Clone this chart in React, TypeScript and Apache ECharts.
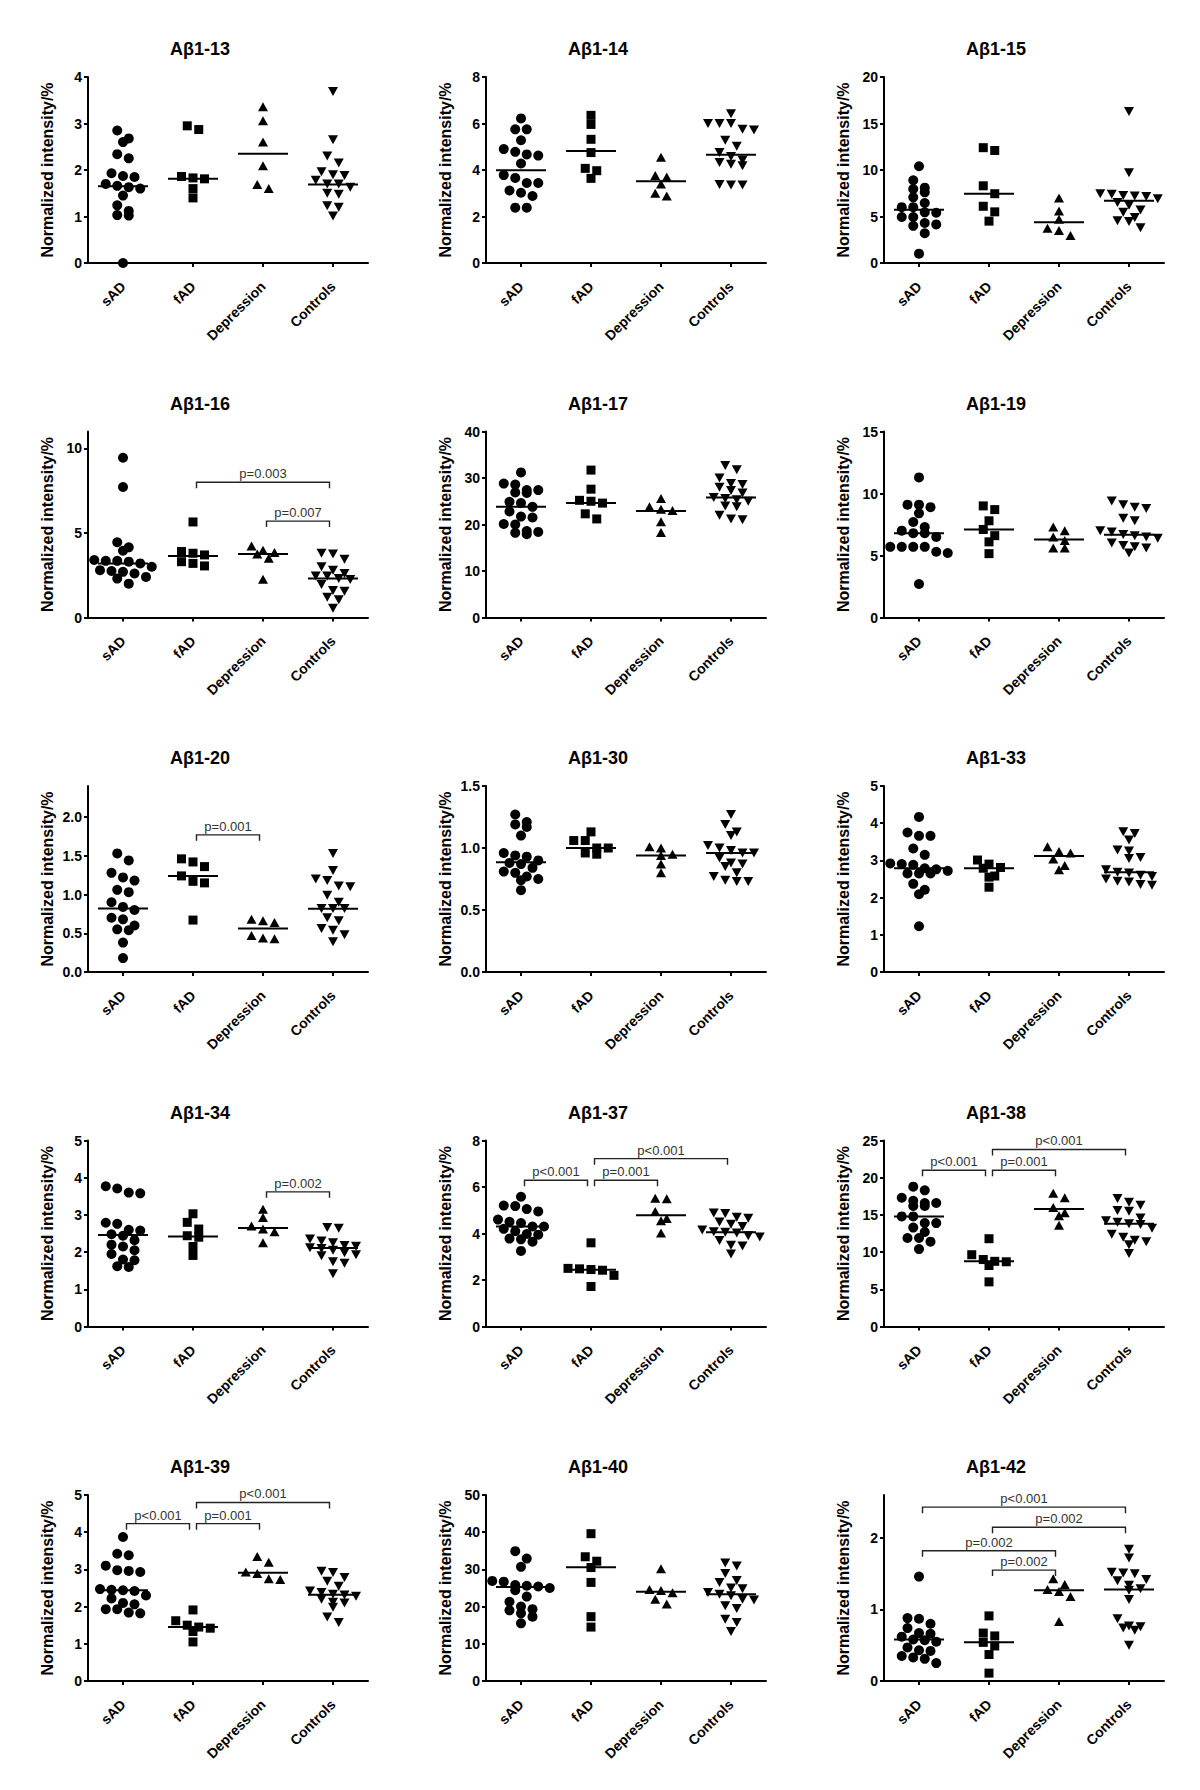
import React, { useEffect, useRef } from "react";
import * as echarts from "echarts";

// ---------- data ----------
const GROUPS = ["sAD", "fAD", "Depression", "Controls"];
const TITLES = [
  "Aβ1-13", "Aβ1-14", "Aβ1-15", "Aβ1-16", "Aβ1-17", "Aβ1-19", "Aβ1-20", "Aβ1-30",
  "Aβ1-33", "Aβ1-34", "Aβ1-37", "Aβ1-38", "Aβ1-39", "Aβ1-40", "Aβ1-42",
];
const Y_NAME = "Normalized intensity/%";
const Y_MAX = [4, 8, 20, 11, 40, 15, 2.4, 1.5, 5, 5, 8, 25, 5, 50, 2.6];
const Y_STEP = [1, 2, 5, 5, 10, 5, 0.5, 0.5, 1, 1, 2, 5, 1, 10, 1];
const Y_DECIMALS = [0, 0, 0, 0, 0, 0, 1, 1, 0, 0, 0, 0, 0, 0, 0];

// values per panel: [sAD, fAD, Depression, Controls]
const ab13 = [
  [2.85, 2.68, 2.6, 2.34, 2.25, 1.93, 1.87, 1.85, 1.7, 1.66, 1.63, 1.6, 1.45, 1.24, 1.12, 1.03, 1.02, 0.0],
  [2.95, 2.87, 1.86, 1.83, 1.81, 1.6, 1.4],
  [3.36, 3.06, 2.6, 2.09, 1.69, 1.6],
  [3.69, 2.65, 2.3, 2.15, 1.96, 1.9, 1.88, 1.78, 1.7, 1.7, 1.63, 1.5, 1.48, 1.23, 1.2, 1.01],
];
const ab14 = [
  [6.22, 5.75, 5.75, 5.28, 4.9, 4.78, 4.67, 4.62, 4.28, 3.78, 3.66, 3.44, 3.44, 3.12, 3.02, 2.88, 2.38, 2.38],
  [6.35, 5.96, 5.32, 4.75, 4.07, 3.97, 3.64],
  [4.55, 3.76, 3.7, 3.4, 3.0, 2.88],
  [6.42, 6.0, 6.0, 6.0, 5.75, 5.72, 5.28, 5.02, 4.75, 4.58, 4.42, 4.32, 4.25, 4.18, 3.38, 3.35, 3.35],
];
const ab15 = [
  [10.4, 8.9, 8.1, 7.95, 7.6, 7.06, 6.45, 6.0, 6.0, 5.45, 5.4, 4.95, 4.95, 4.3, 4.15, 4.0, 3.2, 1.0],
  [12.4, 12.1, 8.3, 7.45, 6.1, 5.5, 4.5],
  [7.0, 5.6, 4.7, 3.75, 3.5, 2.95],
  [16.3, 9.7, 7.45, 7.4, 7.25, 7.2, 7.15, 6.9, 6.5, 6.2, 5.7, 5.45, 4.9, 4.55, 4.45, 3.8],
];
const ab16 = [
  [9.45, 7.72, 4.45, 4.15, 3.95, 3.4, 3.35, 3.35, 3.3, 3.2, 3.0, 2.8, 2.75, 2.7, 2.6, 2.4, 2.3, 2.0],
  [5.65, 3.9, 3.8, 3.7, 3.3, 3.2, 3.05],
  [4.23, 3.98, 3.85, 3.75, 3.5, 2.26],
  [3.8, 3.75, 3.45, 3.0, 2.8, 2.6, 2.45, 2.45, 2.3, 2.25, 1.95, 1.6, 1.55, 1.2, 1.05, 0.55],
];
const ab17 = [
  [31.2, 28.8, 28.6, 27.4, 27.4, 26.9, 26.8, 24.9, 24.6, 23.8, 22.8, 21.7, 21.5, 20.1, 20.0, 18.6, 18.4, 18.2, 17.9],
  [31.7, 27.6, 25.2, 25.0, 24.6, 22.3, 21.2],
  [25.6, 23.8, 23.3, 23.0, 20.6, 18.3],
  [32.7, 31.8, 30.0, 28.8, 28.6, 28.0, 27.3, 26.8, 25.8, 25.6, 25.3, 25.0, 24.0, 23.8, 22.0, 21.2, 21.0],
];
const ab19 = [
  [11.3, 9.1, 9.1, 8.9, 8.4, 7.7, 7.3, 7.0, 6.8, 6.8, 6.5, 5.7, 5.7, 5.7, 5.7, 5.3, 5.2, 2.7],
  [9.0, 8.7, 7.8, 7.1, 6.6, 6.1, 5.15],
  [7.3, 7.0, 6.5, 6.2, 5.6, 5.6],
  [9.4, 9.1, 8.9, 8.8, 8.0, 7.8, 7.0, 6.9, 6.7, 6.6, 6.5, 6.4, 6.0, 5.8, 5.7, 5.6, 5.2],
];
const ab20 = [
  [1.53, 1.44, 1.28, 1.22, 1.18, 1.06, 1.03, 0.9, 0.84, 0.8, 0.7, 0.68, 0.6, 0.55, 0.54, 0.38, 0.18],
  [1.46, 1.42, 1.36, 1.24, 1.17, 1.15, 0.67],
  [0.68, 0.66, 0.64, 0.47, 0.44, 0.43],
  [1.53, 1.31, 1.2, 1.18, 1.11, 1.1, 0.99, 0.9, 0.82, 0.82, 0.82, 0.7, 0.66, 0.56, 0.54, 0.48, 0.39],
];
const ab30 = [
  [1.27, 1.21, 1.19, 1.17, 1.1, 0.96, 0.94, 0.93, 0.9, 0.88, 0.87, 0.84, 0.81, 0.8, 0.77, 0.75, 0.74, 0.66],
  [1.13, 1.06, 1.06, 1.0, 1.0, 0.96, 0.95],
  [1.01, 1.0, 0.95, 0.94, 0.87, 0.8],
  [1.27, 1.19, 1.13, 1.1, 1.02, 1.0, 0.98, 0.96, 0.96, 0.92, 0.88, 0.87, 0.85, 0.8, 0.77, 0.74, 0.73, 0.73],
];
const ab33 = [
  [4.17, 3.75, 3.66, 3.66, 3.32, 3.15, 2.92, 2.9, 2.88, 2.79, 2.76, 2.72, 2.65, 2.65, 2.65, 2.37, 2.21, 2.09, 1.23],
  [3.01, 2.9, 2.81, 2.79, 2.58, 2.55, 2.28],
  [3.37, 3.24, 3.2, 3.04, 2.86, 2.75],
  [3.77, 3.72, 3.55, 3.28, 3.25, 3.08, 3.05, 2.75, 2.68, 2.66, 2.6, 2.57, 2.5, 2.44, 2.42, 2.35, 2.33],
];
const ab34 = [
  [3.77, 3.71, 3.6, 3.58, 2.79, 2.76, 2.6, 2.58, 2.48, 2.44, 2.32, 2.2, 2.15, 2.05, 1.95, 1.8, 1.78, 1.62, 1.6],
  [3.03, 2.8, 2.62, 2.44, 2.4, 2.15, 1.91],
  [3.15, 2.93, 2.7, 2.62, 2.55, 2.25],
  [2.66, 2.64, 2.35, 2.3, 2.25, 2.18, 2.16, 2.12, 2.1, 2.05, 1.98, 1.93, 1.9, 1.74, 1.7, 1.42],
];
const ab37 = [
  [5.58, 5.2, 5.18, 5.05, 4.95, 4.6, 4.5, 4.45, 4.3, 4.3, 4.2, 4.1, 3.98, 3.95, 3.78, 3.75, 3.65, 3.25],
  [3.6, 2.5, 2.48, 2.45, 2.42, 2.2, 1.72],
  [5.52, 5.5, 4.95, 4.65, 4.55, 4.02],
  [4.88, 4.86, 4.7, 4.66, 4.5, 4.4, 4.3, 4.15, 4.08, 4.05, 4.02, 3.9, 3.85, 3.7, 3.5, 3.46, 3.12],
];
const ab38 = [
  [18.8, 18.3, 17.3, 16.9, 16.6, 16.6, 16.2, 16.2, 14.8, 14.8, 13.9, 13.9, 13.3, 12.7, 11.9, 11.9, 11.4, 10.4],
  [11.8, 9.65, 9.0, 8.76, 8.7, 8.2, 6.0],
  [17.9, 17.3, 16.0, 15.3, 14.9, 13.6],
  [17.2, 16.7, 16.3, 15.6, 15.5, 14.6, 14.2, 14.0, 13.8, 13.7, 13.2, 12.4, 12.0, 11.6, 11.4, 11.0, 9.8],
];
const ab39 = [
  [3.87, 3.42, 3.38, 3.1, 2.98, 2.96, 2.93, 2.47, 2.45, 2.44, 2.42, 2.3, 2.22, 2.1, 2.06, 1.93, 1.93, 1.84, 1.82],
  [1.91, 1.62, 1.5, 1.45, 1.42, 1.33, 1.05],
  [3.35, 3.19, 2.93, 2.89, 2.75, 2.73],
  [2.95, 2.92, 2.78, 2.68, 2.55, 2.42, 2.38, 2.33, 2.31, 2.28, 2.2, 2.12, 2.1, 1.98, 1.72, 1.57],
];
const ab40 = [
  [34.9, 32.9, 30.7, 26.9, 26.7, 25.8, 25.6, 25.4, 25.0, 24.4, 22.7, 21.3, 20.0, 19.3, 19.0, 18.2, 17.3, 15.5],
  [39.6, 33.4, 32.2, 30.5, 26.5, 17.3, 14.5],
  [30.2, 24.6, 24.3, 23.7, 22.0, 20.7],
  [31.7, 30.9, 28.9, 27.0, 26.5, 25.0, 24.8, 23.8, 23.3, 22.9, 22.0, 21.8, 20.2, 19.5, 16.6, 15.7, 13.3],
];
const ab42 = [
  [1.46, 0.88, 0.87, 0.8, 0.74, 0.67, 0.66, 0.62, 0.58, 0.57, 0.55, 0.47, 0.43, 0.42, 0.35, 0.33, 0.31, 0.25],
  [0.91, 0.67, 0.63, 0.54, 0.49, 0.37, 0.11],
  [1.43, 1.35, 1.28, 1.25, 1.18, 0.83],
  [1.84, 1.72, 1.52, 1.51, 1.5, 1.42, 1.4, 1.34, 1.29, 1.27, 1.14, 0.87, 0.77, 0.76, 0.74, 0.71, 0.5],
];
const VALUES = [ab13, ab14, ab15, ab16, ab17, ab19, ab20, ab30, ab33, ab34, ab37, ab38, ab39, ab40, ab42];

// horizontal median lines per panel: [sAD, fAD, Depression, Controls]
const MEDIANS = [
  [1.65, 1.81, 2.35, 1.69],
  [3.99, 4.82, 3.52, 4.66],
  [5.73, 7.45, 4.37, 6.7],
  [3.19, 3.64, 3.76, 2.3],
  [23.8, 24.6, 22.9, 25.8],
  [6.8, 7.1, 6.3, 6.67],
  [0.82, 1.24, 0.56, 0.815],
  [0.885, 1.0, 0.94, 0.96],
  [2.79, 2.79, 3.12, 2.68],
  [2.46, 2.42, 2.65, 2.11],
  [4.3, 2.44, 4.79, 4.05],
  [14.8, 8.76, 15.8, 13.8],
  [2.44, 1.45, 2.91, 2.32],
  [25.3, 30.6, 24.0, 23.3],
  [0.58, 0.54, 1.27, 1.28],
];

// significance brackets: [fromGroup, toGroup, level, label]
type Bracket = [number, number, number, string];
const br16: Bracket[] = [[1, 3, 8.0, "p=0.003"], [2, 3, 5.7, "p=0.007"]];
const br20: Bracket[] = [[1, 2, 1.77, "p=0.001"]];
const br34: Bracket[] = [[2, 3, 3.62, "p=0.002"]];
const br37: Bracket[] = [[0, 1, 6.29, "p<0.001"], [1, 2, 6.29, "p=0.001"], [1, 3, 7.22, "p<0.001"]];
const br38: Bracket[] = [[0, 1, 21.0, "p<0.001"], [1, 2, 21.0, "p=0.001"], [1, 3, 23.8, "p<0.001"]];
const br39: Bracket[] = [[0, 1, 4.23, "p<0.001"], [1, 2, 4.23, "p=0.001"], [1, 3, 4.8, "p<0.001"]];
const br42: Bracket[] = [
  [0, 3, 2.43, "p<0.001"], [1, 3, 2.15, "p=0.002"], [0, 2, 1.82, "p=0.002"], [1, 2, 1.55, "p=0.002"],
];
const BRACKETS: Bracket[][] = [[], [], [], br16, [], [], br20, [], [], br34, br37, br38, br39, [], br42];

// ---------- layout / style ----------
const FONT = '"Liberation Sans", Arial, Helvetica, sans-serif';
const INK = "#000000";
const PLOT_W = 280;
const PLOT_H = 186;
const BAND_W = PLOT_W / 4;
const COL_X = [88, 486, 884];
const ROW_TOP0 = 77;
const ROW_DY = 354.5;
const ROW_H = 8; // px: points closer than this share a row
const SPACING = 11.5; // px between neighbours in a row
const SYMBOLS: { symbol: string; size: number | number[]; rotate: number }[] = [
  { symbol: "circle", size: 10, rotate: 0 },
  { symbol: "rect", size: 9, rotate: 0 },
  { symbol: "triangle", size: [10, 9], rotate: 0 },
  { symbol: "triangle", size: [10, 9], rotate: 180 },
];

function swarmOffsets(values: number[], max: number): number[] {
  const pxPerUnit = PLOT_H / max;
  const order = values.map((_, i) => i).sort((a, b) => values[b] - values[a]);
  const offsets = new Array(values.length).fill(0);
  let i = 0;
  while (i < order.length) {
    const row = [order[i]];
    const top = values[order[i]] * pxPerUnit;
    let j = i + 1;
    while (j < order.length && top - values[order[j]] * pxPerUnit < ROW_H) {
      row.push(order[j]);
      j++;
    }
    row.forEach((k, n) => {
      offsets[k] = ((n - (row.length - 1) / 2) * SPACING) / BAND_W;
    });
    i = j;
  }
  return offsets;
}

function buildOption() {
  const grid: any[] = [];
  const xAxis: any[] = [];
  const yAxis: any[] = [];
  const series: any[] = [];
  const title: any[] = [];

  TITLES.forEach((t, p) => {
    const r = Math.floor(p / 3);
    const c = p % 3;
    const left = COL_X[c];
    const top = ROW_TOP0 + ROW_DY * r;
    const max = Y_MAX[p];
    const step = Y_STEP[p];
    const dec = Y_DECIMALS[p];
    const ticks: number[] = [];
    for (let v = 0; v <= max + 1e-9; v = Math.round((v + step) * 1000) / 1000) ticks.push(v);

    grid.push({ left, top, width: PLOT_W, height: PLOT_H, containLabel: false });

    title.push({
      text: t,
      left: left + PLOT_W / 2 - 28,
      top: top - 37,
      textAlign: "center",
      padding: 0,
      textStyle: { fontFamily: FONT, fontSize: 18, fontWeight: "bold", color: INK },
    });

    xAxis.push({
      type: "category",
      gridIndex: p,
      data: GROUPS,
      boundaryGap: true,
      axisLine: { show: true, onZero: false, lineStyle: { color: INK, width: 2 } },
      axisTick: { show: true, alignWithLabel: true, length: 4, lineStyle: { color: INK, width: 2 } },
      axisLabel: {
        rotate: 45,
        margin: 21,
        interval: 0,
        fontFamily: FONT,
        fontSize: 14,
        fontWeight: "bold",
        color: INK,
      },
      splitLine: { show: false },
    });
    xAxis.push({
      type: "value",
      gridIndex: p,
      min: -0.5,
      max: 3.5,
      show: false,
      axisLine: { onZero: false },
    });

    yAxis.push({
      type: "value",
      gridIndex: p,
      min: 0,
      max,
      interval: step,
      name: Y_NAME,
      nameLocation: "middle",
      nameGap: 33,
      nameTextStyle: { fontFamily: FONT, fontSize: 16, fontWeight: "bold", color: INK },
      axisLine: { show: true, onZero: false, lineStyle: { color: INK, width: 2 } },
      axisTick: { show: true, length: 4, lineStyle: { color: INK, width: 2 }, customValues: ticks },
      axisLabel: {
        margin: 6,
        fontFamily: FONT,
        fontSize: 14,
        fontWeight: "bold",
        color: INK,
        customValues: ticks,
        formatter: (v: number) => v.toFixed(dec),
      },
      splitLine: { show: false },
    });

    VALUES[p].forEach((vals, g) => {
      const offs = swarmOffsets(vals, max);
      const sym = SYMBOLS[g];
      series.push({
        type: "scatter",
        name: `${t} ${GROUPS[g]}`,
        xAxisIndex: 2 * p + 1,
        yAxisIndex: p,
        symbol: sym.symbol,
        symbolSize: sym.size,
        symbolRotate: sym.rotate,
        itemStyle: { color: INK, opacity: 1 },
        data: vals.map((v, i) => [g + offs[i], v]),
        silent: true,
        z: 3,
      });
    });

    series.push({
      type: "custom",
      xAxisIndex: 2 * p + 1,
      yAxisIndex: p,
      data: MEDIANS[p].map((m, g) => [g, m]),
      z: 4,
      silent: true,
      renderItem: (_params: any, api: any) => {
        const pt = api.coord([api.value(0), api.value(1)]);
        return {
          type: "line",
          shape: { x1: pt[0] - 25, y1: pt[1], x2: pt[0] + 25, y2: pt[1] },
          style: { stroke: INK, lineWidth: 2 },
        };
      },
    });

    const brs = BRACKETS[p];
    if (brs.length) {
      series.push({
        type: "custom",
        xAxisIndex: 2 * p + 1,
        yAxisIndex: p,
        data: brs.map((b) => [b[0], b[1], b[2]]),
        encode: { x: [0, 1], y: 2 },
        z: 4,
        silent: true,
        renderItem: (params: any, api: any) => {
          const a = api.coord([api.value(0), api.value(2)]);
          const b = api.coord([api.value(1), api.value(2)]);
          const x1 = a[0] + 3.5;
          const x2 = b[0] - 3.5;
          const y = a[1];
          const label = brs[params.dataIndex][3];
          return {
            type: "group",
            children: [
              {
                type: "polyline",
                shape: { points: [[x1, y + 6], [x1, y], [x2, y], [x2, y + 6]] },
                style: { stroke: "#222", lineWidth: 1.4, fill: "none" },
              },
              {
                type: "text",
                x: (x1 + x2) / 2,
                y: y - 2,
                style: {
                  text: label,
                  fill: "#333",
                  font: `13px ${FONT}`,
                  align: "center",
                  verticalAlign: "bottom",
                  textAlign: "center",
                  textVerticalAlign: "bottom",
                },
              },
            ],
          };
        },
      });
    }
  });

  return {
    animation: false,
    backgroundColor: "#ffffff",
    title,
    grid,
    xAxis,
    yAxis,
    series,
  };
}

export default function App() {
  const ref = useRef<HTMLDivElement>(null);
  useEffect(() => {
    document.body.style.margin = "0";
    if (!ref.current) return;
    const chart = echarts.init(ref.current, null, { renderer: "svg" });
    chart.setOption(buildOption() as any);
    return () => {
      chart.dispose();
    };
  }, []);
  return <div ref={ref} style={{ width: 1200, height: 1790 }} />;
}
